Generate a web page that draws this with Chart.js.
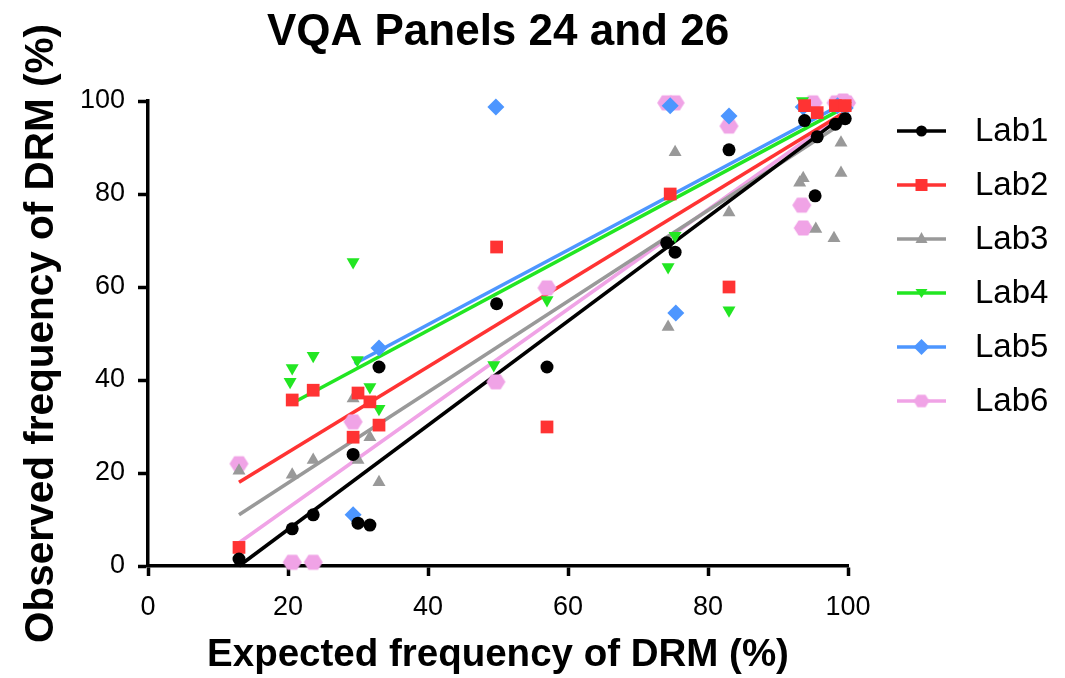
<!DOCTYPE html>
<html><head><meta charset="utf-8">
<script src="https://cdn.jsdelivr.net/npm/chart.js@4.4.0/dist/chart.umd.min.js"></script>
<style>html,body{margin:0;padding:0;background:#fff;}</style>
</head><body>
<canvas id="c" width="1065" height="678"></canvas>
<script>
// ---- data ----
const labNames = ['Lab1', 'Lab2', 'Lab3', 'Lab4', 'Lab5', 'Lab6'];

const lab1X = [13, 20.6, 23.6, 29.3, 30, 31.7, 33, 49.8, 57, 74.1, 75.3, 83, 93.8, 95.3, 95.6, 98.2, 99.6];
const lab1Y = [1.5, 8, 11, 24, 9.2, 8.8, 42.8, 56.4, 42.8, 69.5, 67.5, 89.5, 95.8, 79.6, 92.3, 95, 96.2];

const lab2X = [13, 20.6, 23.6, 29.3, 30, 31.7, 33, 49.8, 57, 74.6, 83, 93.8, 95.6, 98.2, 99.6];
const lab2Y = [4, 35.7, 37.8, 27.7, 37.2, 35.3, 30.3, 68.6, 29.9, 80, 60, 99, 97.5, 99, 99];

const lab3X = [13, 20.6, 23.6, 29.3, 30, 31.7, 33, 74.3, 75.3, 83, 93.1, 93.6, 95.4, 98, 99, 99, 99.6];
const lab3Y = [20.5, 19.6, 22.8, 36, 22.8, 27.7, 18, 51.4, 89, 76, 82.4, 83.4, 72.5, 70.5, 91, 84.5, 97];

const lab4X = [20.3, 20.6, 23.6, 29.3, 29.9, 31.7, 33, 49.4, 57, 74.3, 75.3, 83, 93.5, 99.6];
const lab4Y = [39.6, 42.6, 45.2, 65.4, 44.3, 38.5, 33.8, 43.2, 57.2, 64.3, 71, 55, 100, 99];

const lab5X = [29.3, 33, 49.7, 74.6, 75.4, 83, 93.6, 98.5, 99.6];
const lab5Y = [11, 46.9, 98.7, 99, 54.4, 96.8, 98.7, 99, 98.5];

const lab6X = [13, 20.6, 23.6, 29.3, 49.7, 57, 74.1, 75.3, 83, 93.4, 93.6, 95, 98.3, 99.3, 99.8];
const lab6Y = [22, 0.8, 0.8, 31, 39.6, 59.8, 99.6, 99.6, 94.6, 77.6, 72.7, 99.6, 99.6, 100, 99.6];

// regression line end points
const fitStartX = [13, 13, 13, 20.6, 29.5, 13];
const fitStartY = [0, 18, 11, 35, 43.5, 5];
const fitEndX = [100, 100, 100, 100, 100, 100];
const fitEndY = [97.5, 98, 96, 99, 100, 98];

const xTickValues = [0, 20, 40, 60, 80, 100];
const yTickValues = [0, 20, 40, 60, 80, 100];

// ---- styling ----
const FONT = "'Liberation Sans', Arial, sans-serif";
const colors = ['#000000', '#ff3333', '#999999', '#22e622', '#4d96ff', '#f0a3e6'];

function hexCanvas(r, color) {
  const c = document.createElement('canvas');
  const w = Math.ceil(r * 2) + 2, h = Math.ceil(r * 1.8) + 2;
  c.width = w; c.height = h;
  const g = c.getContext('2d');
  g.fillStyle = color;
  g.beginPath();
  for (let k = 0; k < 6; k++) {
    const a = Math.PI / 3 * k;
    const px = w / 2 + r * Math.cos(a), py = h / 2 + r * 0.9 * Math.sin(a);
    if (k === 0) g.moveTo(px, py); else g.lineTo(px, py);
  }
  g.closePath(); g.fill();
  return c;
}
const hexBig = hexCanvas(9.5, colors[5]);
const hexSmall = hexCanvas(8, colors[5]);

const styles = [
  {pointStyle: 'circle', radius: 6.5, rotation: 0},
  {pointStyle: 'rect', radius: 9, rotation: 0},
  {pointStyle: 'triangle', radius: 7.5, rotation: 0},
  {pointStyle: 'triangle', radius: 7.5, rotation: 180},
  {pointStyle: 'rectRot', radius: 8.5, rotation: 0},
  {pointStyle: hexBig, radius: 9, rotation: 0}
];

const xs = [lab1X, lab2X, lab3X, lab4X, lab5X, lab6X];
const ys = [lab1Y, lab2Y, lab3Y, lab4Y, lab5Y, lab6Y];

const datasets = [];
for (let i = 0; i < 6; i++) {
  datasets.push({
    label: labNames[i],
    data: xs[i].map((x, k) => ({x: x, y: ys[i][k]})),
    showLine: false,
    pointStyle: styles[i].pointStyle,
    pointRadius: styles[i].radius,
    pointRotation: styles[i].rotation,
    pointBackgroundColor: colors[i],
    pointBorderColor: colors[i],
    pointBorderWidth: 0,
    clip: false,
    order: 1
  });
}
for (let i = 0; i < 6; i++) {
  datasets.push({
    label: labNames[i] + ' fit',
    data: [{x: fitStartX[i], y: fitStartY[i]}, {x: fitEndX[i], y: fitEndY[i]}],
    showLine: true,
    borderColor: colors[i],
    borderWidth: 3.6,
    pointRadius: 0,
    clip: false,
    order: 2
  });
}

function drawMarker(ctx, i, x, y) {
  ctx.save();
  ctx.fillStyle = colors[i];
  ctx.beginPath();
  if (i === 0) { ctx.arc(x, y, 5.5, 0, Math.PI * 2); ctx.fill(); }
  else if (i === 1) { ctx.fillRect(x - 6, y - 6, 12, 12); }
  else if (i === 2) { ctx.moveTo(x, y - 7); ctx.lineTo(x + 6, y + 4); ctx.lineTo(x - 6, y + 4); ctx.closePath(); ctx.fill(); }
  else if (i === 3) { ctx.moveTo(x, y + 5); ctx.lineTo(x + 6, y - 4); ctx.lineTo(x - 6, y - 4); ctx.closePath(); ctx.fill(); }
  else if (i === 4) { ctx.moveTo(x, y - 8); ctx.lineTo(x + 8, y); ctx.lineTo(x, y + 8); ctx.lineTo(x - 8, y); ctx.closePath(); ctx.fill(); }
  else { ctx.drawImage(hexSmall, x - hexSmall.width / 2, y - hexSmall.height / 2); }
  ctx.restore();
}

const legendPlugin = {
  id: 'sideLegend',
  afterDraw(chart) {
    const ctx = chart.ctx;
    ctx.save();
    for (let i = 0; i < 6; i++) {
      const y = 131 + i * 54;
      ctx.strokeStyle = colors[i];
      ctx.lineWidth = 3.6;
      ctx.beginPath(); ctx.moveTo(897, y); ctx.lineTo(946, y); ctx.stroke();
      drawMarker(ctx, i, 921.5, y);
      ctx.fillStyle = '#000';
      ctx.font = '33px ' + FONT;
      ctx.textBaseline = 'middle';
      ctx.textAlign = 'left';
      ctx.fillText(labNames[i], 975, y + 1);
    }
    ctx.restore();
  }
};

new Chart(document.getElementById('c'), {
  type: 'scatter',
  data: {datasets: datasets},
  options: {
    responsive: false,
    animation: false,
    devicePixelRatio: 1,
    layout: {padding: {left: 0, right: 217, top: 0, bottom: 0}},
    plugins: {
      legend: {display: false},
      tooltip: {enabled: false},
      title: {
        display: true,
        text: 'VQA Panels 24 and 26',
        fullSize: false,
        color: '#000',
        font: {family: FONT, size: 44, weight: 'bold', lineHeight: 1.2},
        padding: {top: 6, bottom: 42.2}
      }
    },
    scales: {
      x: {
        type: 'linear', min: 0, max: 100,
        afterBuildTicks(s) { s.ticks = xTickValues.map(v => ({value: v})); },
        afterFit(s) { s.height = 112; },
        border: {display: true, color: '#000', width: 3.5},
        grid: {display: true, drawOnChartArea: false, drawTicks: true, tickLength: 10, tickWidth: 3.5, tickColor: '#000', color: '#000'},
        ticks: {color: '#000', font: {family: FONT, size: 27}, padding: 15, maxRotation: 0},
        title: {display: true, text: 'Expected frequency of DRM (%)', color: '#000',
          font: {family: FONT, size: 38.5, weight: 'bold', lineHeight: 1.2}, padding: {top: 0, bottom: 0}}
      },
      y: {
        type: 'linear', min: 0, max: 100,
        afterBuildTicks(s) { s.ticks = yTickValues.map(v => ({value: v})); },
        afterFit(s) { s.width = 148; },
        border: {display: true, color: '#000', width: 3.5},
        grid: {display: true, drawOnChartArea: false, drawTicks: true, tickLength: 10, tickWidth: 3.5, tickColor: '#000', color: '#000'},
        ticks: {color: '#000', font: {family: FONT, size: 27}, padding: 13},
        title: {display: true, text: 'Observed frequency of DRM (%)', color: '#000',
          font: {family: FONT, size: 40.5, weight: 'bold', lineHeight: 1.2}, padding: {top: 18, bottom: 0}}
      }
    }
  },
  plugins: [legendPlugin]
});
</script>
</body></html>
